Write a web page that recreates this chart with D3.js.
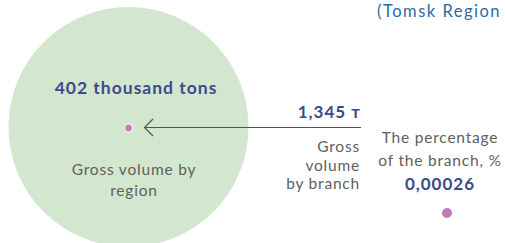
<!DOCTYPE html>
<html>
<head>
<meta charset="utf-8">
<script src="https://cdn.jsdelivr.net/npm/d3@7"></script>
<style>
  body { margin: 0; background: #fff; }
  text { font-family: Lato, "Open Sans", sans-serif; }
  .bold { font-weight: 700; fill: #3a4a8b; letter-spacing: 1px; }
  .grey { fill: #606060; letter-spacing: 0.8px; }
</style>
</head>
<body>
<script>
// values
var title = "(Tomsk Region";
var regionValue = ["402 thousand tons"];
var regionLabel = ["Gross volume by", "region"];
var branchValue = ["1,345 т"];
var branchLabel = ["Gross", "volume", "by branch"];
var shareLabel = ["The percentage", "of the branch, %"];
var shareValue = ["0,00026"];

var width = 505, height = 243;

var svg = d3.select("body").append("svg")
    .attr("width", width)
    .attr("height", height);

// big region circle
var cx = 128.5, cy = 127, R = 120;
svg.append("circle")
    .attr("cx", cx).attr("cy", cy).attr("r", R)
    .attr("fill", "#d3e7cf");

// small dot = branch inside region
svg.append("circle")
    .attr("cx", cx).attr("cy", 128).attr("r", 4)
    .attr("fill", "#c07ab8")
    .attr("stroke", "#fff").attr("stroke-width", 1);

// arrow
svg.append("line")
    .attr("x1", 361).attr("x2", 144)
    .attr("y1", 127.5).attr("y2", 127.5)
    .attr("stroke", "#555").attr("stroke-width", 1.2);
svg.append("path")
    .attr("d", "M153,119 L144.5,127.5 L153,136")
    .attr("fill", "none")
    .attr("stroke", "#555").attr("stroke-width", 1.2);

// title
svg.append("text")
    .attr("x", 501).attr("y", 17)
    .attr("text-anchor", "end")
    .attr("font-size", 16.5)
    .attr("letter-spacing", "1.5px")
    .attr("fill", "#2c6aa6")
    .text(title);

// region texts
svg.selectAll(".rv").data(regionValue).enter().append("text")
    .attr("class", "bold")
    .attr("x", 136).attr("y", 94)
    .attr("text-anchor", "middle")
    .attr("font-size", 17.5)
    .text(function(d){ return d; });

svg.selectAll(".rl").data(regionLabel).enter().append("text")
    .attr("class", "grey")
    .attr("x", 134)
    .attr("y", function(d, i){ return 175 + i * 21; })
    .attr("text-anchor", "middle")
    .attr("font-size", 15.5)
    .text(function(d){ return d; });

// branch texts
svg.selectAll(".bv").data(branchValue).enter().append("text")
    .attr("class", "bold")
    .attr("x", 361).attr("y", 118)
    .attr("text-anchor", "end")
    .attr("font-size", 17)
    .text(function(d){ return d; });

svg.selectAll(".bl").data(branchLabel).enter().append("text")
    .attr("class", "grey")
    .attr("x", 360)
    .attr("y", function(d, i){ return 152 + i * 18.5; })
    .attr("text-anchor", "end")
    .attr("font-size", 15.5)
    .text(function(d){ return d; });

// share texts
svg.selectAll(".sl").data(shareLabel).enter().append("text")
    .attr("class", "grey")
    .attr("x", 440)
    .attr("y", function(d, i){ return 143 + i * 22.5; })
    .attr("text-anchor", "middle")
    .attr("font-size", 15.5)
    .text(function(d){ return d; });

svg.selectAll(".sv").data(shareValue).enter().append("text")
    .attr("class", "bold")
    .attr("x", 440).attr("y", 190)
    .attr("text-anchor", "middle")
    .attr("font-size", 17)
    .text(function(d){ return d; });

svg.append("circle")
    .attr("cx", 447).attr("cy", 213).attr("r", 5)
    .attr("fill", "#c07ab8");
</script>
</body>
</html>
